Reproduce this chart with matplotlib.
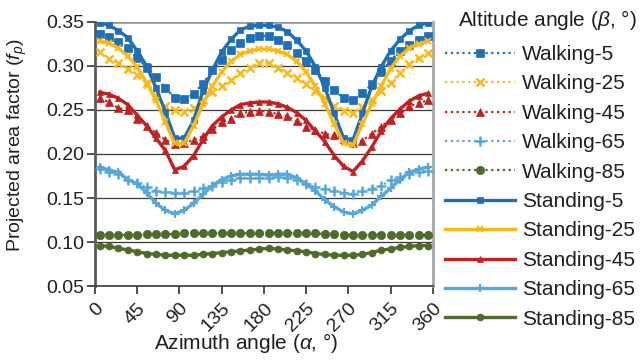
import numpy as np
import matplotlib
matplotlib.use("Agg")
import matplotlib.pyplot as plt

plt.rcParams['font.family'] = ['Liberation Sans', 'DejaVu Sans']
plt.rcParams['mathtext.fontset'] = 'custom'
plt.rcParams['mathtext.rm'] = 'Liberation Sans'
plt.rcParams['mathtext.it'] = 'Liberation Sans:italic'

azimuth = list(range(5, 360, 10))

walking_5 = [0.336, 0.333, 0.327, 0.320, 0.309, 0.298, 0.287, 0.275, 0.264,
             0.262, 0.268, 0.280, 0.295, 0.307, 0.318, 0.326, 0.332, 0.334,
             0.334, 0.329, 0.324, 0.315, 0.305, 0.295, 0.283, 0.273, 0.263,
             0.261, 0.269, 0.279, 0.293, 0.306, 0.317, 0.324, 0.329, 0.334]
walking_25 = [0.316, 0.308, 0.303, 0.297, 0.290, 0.280, 0.266, 0.254, 0.250,
              0.248, 0.252, 0.261, 0.270, 0.277, 0.284, 0.292, 0.298, 0.303,
              0.303, 0.298, 0.292, 0.286, 0.279, 0.271, 0.263, 0.255, 0.249,
              0.247, 0.253, 0.261, 0.271, 0.281, 0.292, 0.302, 0.309, 0.315]
walking_45 = [0.263, 0.259, 0.252, 0.250, 0.240, 0.232, 0.224, 0.216, 0.211,
              0.212, 0.216, 0.220, 0.228, 0.236, 0.240, 0.246, 0.248, 0.249,
              0.248, 0.245, 0.243, 0.237, 0.231, 0.227, 0.223, 0.221, 0.217,
              0.213, 0.215, 0.223, 0.231, 0.239, 0.246, 0.254, 0.258, 0.261]
walking_65 = [0.183, 0.180, 0.177, 0.171, 0.167, 0.162, 0.158, 0.157, 0.156,
              0.156, 0.158, 0.161, 0.164, 0.168, 0.171, 0.173, 0.173, 0.173,
              0.173, 0.174, 0.173, 0.170, 0.166, 0.162, 0.160, 0.158, 0.156,
              0.155, 0.158, 0.160, 0.164, 0.170, 0.174, 0.177, 0.180, 0.181]
walking_85 = [0.108, 0.108, 0.108, 0.108, 0.108, 0.109, 0.109, 0.109, 0.109,
              0.110, 0.110, 0.110, 0.110, 0.110, 0.110, 0.110, 0.110, 0.110,
              0.110, 0.110, 0.110, 0.110, 0.110, 0.110, 0.109, 0.109, 0.108,
              0.108, 0.108, 0.108, 0.108, 0.108, 0.108, 0.108, 0.108, 0.108]

standing_5 = [0.349, 0.346, 0.340, 0.332, 0.317, 0.300, 0.275, 0.248, 0.218,
              0.218, 0.238, 0.271, 0.295, 0.316, 0.330, 0.341, 0.345, 0.346,
              0.346, 0.344, 0.339, 0.329, 0.317, 0.299, 0.275, 0.246, 0.218,
              0.216, 0.246, 0.277, 0.299, 0.317, 0.330, 0.340, 0.346, 0.349]
standing_25 = [0.328, 0.326, 0.320, 0.311, 0.299, 0.281, 0.261, 0.236, 0.212,
               0.212, 0.232, 0.257, 0.277, 0.293, 0.305, 0.313, 0.317, 0.319,
               0.319, 0.317, 0.313, 0.305, 0.293, 0.277, 0.257, 0.234, 0.212,
               0.210, 0.234, 0.257, 0.277, 0.297, 0.311, 0.320, 0.325, 0.328]
standing_45 = [0.270, 0.268, 0.263, 0.256, 0.244, 0.232, 0.218, 0.204, 0.182,
               0.186, 0.198, 0.216, 0.232, 0.242, 0.250, 0.256, 0.258, 0.259,
               0.259, 0.257, 0.253, 0.247, 0.238, 0.226, 0.214, 0.198, 0.186,
               0.180, 0.192, 0.208, 0.226, 0.240, 0.251, 0.260, 0.266, 0.269]
standing_65 = [0.185, 0.182, 0.179, 0.171, 0.166, 0.156, 0.144, 0.136, 0.132,
               0.136, 0.144, 0.154, 0.164, 0.171, 0.175, 0.177, 0.177, 0.177,
               0.176, 0.177, 0.177, 0.173, 0.166, 0.158, 0.148, 0.140, 0.134,
               0.132, 0.136, 0.142, 0.152, 0.161, 0.171, 0.179, 0.183, 0.185]
standing_85 = [0.096, 0.095, 0.093, 0.091, 0.089, 0.087, 0.086, 0.085, 0.085,
               0.085, 0.085, 0.086, 0.087, 0.088, 0.089, 0.090, 0.091, 0.092,
               0.093, 0.092, 0.091, 0.090, 0.089, 0.087, 0.086, 0.085, 0.085,
               0.085, 0.086, 0.088, 0.091, 0.092, 0.094, 0.095, 0.096, 0.096]

x_ticks = [0, 45, 90, 135, 180, 225, 270, 315, 360]
y_ticks = [0.05, 0.10, 0.15, 0.20, 0.25, 0.30, 0.35]

colors = ['#1F6EB8', '#FDB913', '#C3201F', '#54A8DA', '#4E6B2B']
markers = ['s', 'x', '^', '+', 'o']
msizes = [6, 6, 6, 7, 6]
walking = [walking_5, walking_25, walking_45, walking_65, walking_85]
standing = [standing_5, standing_25, standing_45, standing_65, standing_85]
betas = [5, 25, 45, 65, 85]

text_color = '#231F20'
fig = plt.figure(figsize=(6.44, 3.64), dpi=100)
ax = fig.add_axes([0.1475, 0.214, 0.5245, 0.726])

handles = []
for vals, c, m, ms, b in zip(walking, colors, markers, msizes, betas):
    h, = ax.plot(azimuth, vals, color=c, linestyle=(0, (1, 1.6)), linewidth=1.6,
                 marker=m, markersize=ms, markeredgewidth=1.8 if m in 'x+' else 0.5,
                 label=f'Walking-{b}', zorder=3)
    handles.append(h)
for vals, c, m, ms, b in zip(standing, colors, markers, msizes, betas):
    h, = ax.plot(azimuth, vals, color=c, linestyle='-', linewidth=2.4,
                 marker=m, markersize=ms - 1, markeredgewidth=1.5 if m in 'x+' else 0.5,
                 label=f'Standing-{b}', zorder=4)
    handles.append(h)

ax.set_xlim(0, 360)
ax.set_ylim(0.05, 0.35)
ax.set_xticks(x_ticks)
ax.set_yticks(y_ticks)
ax.set_yticklabels([f'{v:.2f}' for v in y_ticks])
ax.set_xticklabels([str(v) for v in x_ticks], rotation=45, ha='right',
                   va='top', rotation_mode='anchor')

for v in y_ticks[1:-1]:
    ax.axhline(v, color='#3a3a3a', linewidth=0.9, zorder=1)
ax.axhline(0.35, color='#9a9a9a', linewidth=2.0, zorder=1)

ax.spines['top'].set_visible(False)
ax.spines['right'].set_color('#a8a8a8')
ax.spines['right'].set_linewidth(2.0)
ax.spines['left'].set_color('#5a5a5a')
ax.spines['left'].set_linewidth(2.0)
ax.spines['bottom'].set_color('#3a3a3a')
ax.spines['bottom'].set_linewidth(1.2)

ax.tick_params(axis='both', labelsize=14, colors=text_color, length=6,
               width=1.1, direction='out')
ax.tick_params(axis='x', pad=4)
ax.tick_params(axis='y', pad=2)

ax.set_xlabel('Azimuth angle ($\\alpha$, °)', fontsize=15, color=text_color)
ax.xaxis.set_label_coords(0.447, -0.17)
ax.set_ylabel('Projected area factor ($f_p$)', fontsize=14, color=text_color)
ax.yaxis.set_label_coords(-0.195, 0.534)

# legend title drawn as its own text, entries below it
fig.text(458 / 644, 1 - 20 / 364, 'Altitude angle ($\\beta$, °)', fontsize=15,
         color=text_color, ha='left', va='center')
leg = fig.legend(handles=handles, loc='upper left',
                 bbox_to_anchor=(445 / 644, 1 - 45 / 364),
                 frameon=False, fontsize=15, handlelength=3.35,
                 labelspacing=0.5, handletextpad=0.35, borderpad=0.0,
                 borderaxespad=0.0)
for t in leg.get_texts():
    t.set_color(text_color)

fig.savefig('out.png', dpi=100)
